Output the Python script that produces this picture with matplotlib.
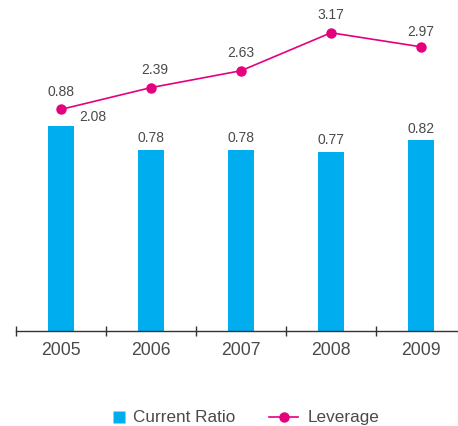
import matplotlib
matplotlib.use("Agg")
import matplotlib.pyplot as plt
from matplotlib.lines import Line2D

years = ["2005", "2006", "2007", "2008", "2009"]
current_ratio = [0.88, 0.78, 0.78, 0.77, 0.82]
leverage = [2.08, 2.39, 2.63, 3.17, 2.97]
series_names = ["Current Ratio", "Leverage"]

BLUE = "#00AEEF"
MAGENTA = "#E5007E"
TXT = "#4a4a4a"
plt.rcParams['font.family'] = ['Liberation Sans', 'DejaVu Sans']

W, H = 458, 427
fig = plt.figure(figsize=(W / 100, H / 100), dpi=100)
left, right = 16 / W, 466 / W
bottom, top = 1 - 331.5 / H, 1 - 10 / H
ax = fig.add_axes([left, bottom, right - left, top - bottom])
x = list(range(len(years)))

ax.bar(x, current_ratio, width=0.29, color=BLUE, zorder=2)
ax.set_xlim(-0.5, len(years) - 0.5)
ax.set_ylim(0, 321.5 / 232)
for s in ["top", "left", "right"]:
    ax.spines[s].set_visible(False)
ax.spines["bottom"].set_color("#333333")
ax.spines["bottom"].set_linewidth(1.0)
ax.set_yticks([])
ax.set_xticks(x)
ax.set_xticklabels(years, fontsize=12.7, color=TXT)
ax.tick_params(axis="x", which="major", length=0, pad=7.5)
ax.set_xticks([i - 0.5 for i in x], minor=True)
ax.tick_params(axis="x", which="minor", direction="inout", length=7, width=1, color="#333333")

ax2 = ax.twinx()
ax2.set_ylim(-1.065, 3.508)
for s in ["top", "left", "right", "bottom"]:
    ax2.spines[s].set_visible(False)
ax2.set_yticks([])
ax2.plot(x, leverage, color=MAGENTA, lw=1.2, marker="o", markersize=6.5, zorder=3)

# bar labels
for i, v in enumerate(current_ratio):
    if i == 0:
        ax2.annotate(f"{v:.2f}", (x[i], leverage[i]), xytext=(0, 8), textcoords="offset points",
                     ha="center", va="bottom", fontsize=10, color=TXT)
    else:
        ax.annotate(f"{v:.2f}", (x[i], v), xytext=(0, 4), textcoords="offset points",
                    ha="center", va="bottom", fontsize=10, color=TXT)
# line labels
for i, v in enumerate(leverage):
    if i == 0:
        ax2.annotate(f"{v:.2f}", (x[i], v), xytext=(23, -4.5), textcoords="offset points",
                     ha="center", va="center", fontsize=10, color=TXT)
    else:
        dx = 3 if i == 1 else 0
        dy = 11.5 if i == 4 else 13.5
        ax2.annotate(f"{v:.2f}", (x[i], v), xytext=(dx, dy), textcoords="offset points",
                     ha="center", va="center", fontsize=10, color=TXT)

# legend drawn manually in figure pixel coordinates
ly = 1 - 417.5 / H
fig.add_artist(Line2D([118.5 / W], [ly], transform=fig.transFigure, color="none",
                      marker="s", markersize=8, markerfacecolor=BLUE, markeredgecolor="none"))
fig.text(133 / W, ly, series_names[0], ha="left", va="center", fontsize=12.3, color=TXT)
fig.add_artist(Line2D([269 / W, 298 / W], [ly, ly], transform=fig.transFigure,
                      color=MAGENTA, lw=1.2))
fig.add_artist(Line2D([283.5 / W], [ly], transform=fig.transFigure, color=MAGENTA,
                      marker="o", markersize=6.5))
fig.text(308 / W, ly, series_names[1], ha="left", va="center", fontsize=12.3, color=TXT)

fig.savefig("out.png", dpi=100)
